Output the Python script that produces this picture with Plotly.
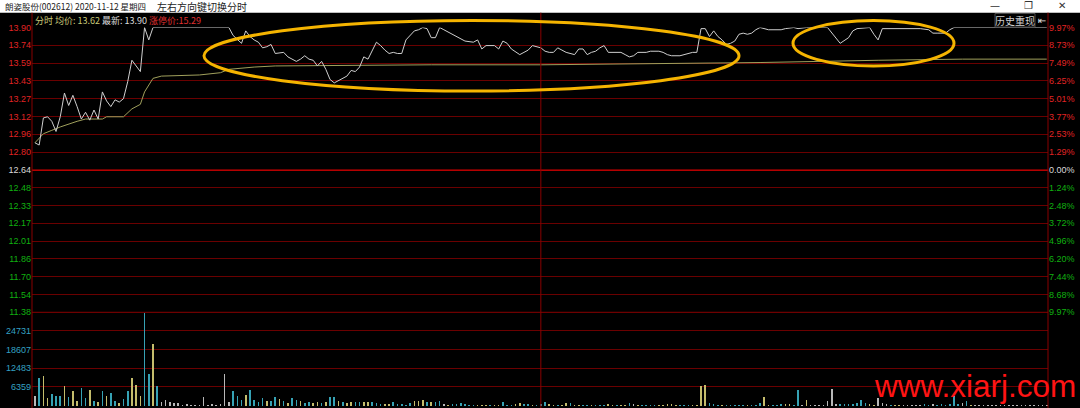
import numpy as np
import plotly.graph_objects as go

# ---------------- data ----------------
# intraday price (minute index since 09:30, 0..240; 120 = 11:30/13:00)
price_min = [0, 1, 2, 3, 4, 5, 6, 7, 8, 9, 10, 11, 12, 13, 14, 15, 16, 17, 18, 19, 20, 21, 22, 23, 25, 26, 27, 28,
             46, 47, 49, 50, 51, 52, 53, 54, 55, 56, 57, 59, 60, 61, 62, 63, 64, 65, 66, 67, 68, 69, 70, 71, 72, 73,
             74, 75, 76, 77, 78, 79, 80, 81, 82, 83, 84, 85, 86, 87, 88, 90, 91, 92, 93, 94, 95, 96, 97, 99, 101,
             102, 104, 105, 106, 107, 109, 110, 111, 112, 113, 115, 116, 117, 118, 119, 120, 121, 122, 123, 124,
             125, 126, 128, 129, 130, 131, 132, 133, 134, 135, 136, 137, 138, 139, 140, 141, 142, 143, 145, 146,
             148, 149, 150, 151, 153, 154, 156, 157, 158, 159, 160, 161, 162, 163, 164, 165, 166, 167, 168, 169,
             170, 171, 172, 174, 176, 177, 178, 180, 181, 183, 188, 189, 190, 191, 193, 194, 195, 197, 198, 199,
             200, 201, 203, 205, 207, 210, 212, 213, 214, 216, 217, 218, 240]
price_val = [12.88, 12.86, 13.10, 13.11, 13.07, 12.98, 13.11, 13.32, 13.21, 13.30, 13.20, 13.09, 13.15, 13.08,
             13.17, 13.09, 13.33, 13.25, 13.20, 13.26, 13.24, 13.27, 13.42, 13.61, 13.51, 13.90, 13.79, 13.90,
             13.90, 13.83, 13.76, 13.87, 13.82, 13.79, 13.77, 13.72, 13.73, 13.75, 13.67, 13.68, 13.64, 13.62,
             13.60, 13.62, 13.65, 13.62, 13.61, 13.56, 13.60, 13.53, 13.44, 13.41, 13.43, 13.45,
             13.47, 13.52, 13.51, 13.55, 13.64, 13.62, 13.69, 13.77, 13.74, 13.70, 13.67, 13.68, 13.67, 13.67,
             13.79, 13.87, 13.88, 13.90, 13.89, 13.81, 13.81, 13.90, 13.88, 13.84, 13.80,
             13.78, 13.77, 13.79, 13.71, 13.74, 13.74, 13.71, 13.78, 13.76, 13.71, 13.66, 13.68, 13.70, 13.74,
             13.73, 13.72, 13.69, 13.68, 13.68, 13.72,
             13.70, 13.68, 13.66, 13.71, 13.71, 13.66, 13.68, 13.69, 13.72, 13.74, 13.68, 13.68, 13.68, 13.68,
             13.66, 13.64, 13.65, 13.68, 13.68, 13.69,
             13.69, 13.68, 13.66, 13.65, 13.65, 13.66, 13.68, 13.68, 13.89, 13.89, 13.82, 13.87, 13.82, 13.79,
             13.75, 13.76, 13.78, 13.84, 13.85, 13.84,
             13.85, 13.88, 13.90, 13.88, 13.88, 13.88, 13.89, 13.90, 13.89, 13.90, 13.90, 13.85, 13.81, 13.76,
             13.81, 13.87, 13.89, 13.90, 13.90, 13.84,
             13.79, 13.89, 13.89, 13.89, 13.89, 13.89, 13.88, 13.85, 13.85, 13.85, 13.88, 13.90, 13.90]

avg_min = [0, 2, 4, 6, 10, 12, 16, 17, 21, 23, 25, 26, 28, 30, 39, 44, 46, 52, 57, 94, 120, 157, 172, 200, 220, 240]
avg_val = [12.88, 12.96, 12.99, 13.02, 13.07, 13.09, 13.09, 13.11, 13.11, 13.18, 13.22, 13.33, 13.45, 13.47,
           13.48, 13.50, 13.53, 13.55, 13.56, 13.57, 13.57, 13.58, 13.59, 13.61, 13.62, 13.62]

# per-minute volume and its direction (u = up, d = down, f = flat)
volume = [3200, 9200, 9870, 2530, 3950, 3400, 3400, 6690, 3070, 5040,
          1750, 5820, 2530, 5260, 1540, 1210, 5040, 3400, 4170, 1540,
          1100, 2190, 5040, 9100, 7020, 3400, 30490, 10530, 20400, 6690,
          1210, 1970, 1210, 880, 880, 440, 660, 330, 330, 440,
          2960, 440, 660, 440, 660, 10530, 1420, 5040, 3400, 2080,
          3730, 5260, 2080, 1420, 2530, 1530, 1750, 3070, 2190, 1530,
          990, 2530, 2080, 1530, 880, 1210, 880, 1210, 990, 1210,
          2860, 3070, 1530, 1210, 880, 1210, 1420, 1210, 1420, 1420,
          1210, 990, 550, 550, 550, 1420, 550, 550, 440, 1100,
          1530, 1530, 1870, 1210, 1320, 1210, 1750, 770, 440, 550,
          770, 990, 550, 440, 330, 440, 440, 440, 440, 330,
          330, 1210, 330, 330, 550, 990, 550, 550, 440, 440,
          550, 1320, 550, 440, 440, 440, 880, 990, 440, 440,
          440, 440, 440, 440, 440, 440, 660, 440, 440, 440,
          440, 990, 660, 330, 330, 330, 440, 330, 330, 440,
          550, 550, 330, 330, 440, 330, 330, 440, 6470, 6800,
          990, 660, 440, 440, 440, 440, 440, 440, 440, 440,
          440, 440, 990, 2860, 440, 440, 440, 550, 550, 550,
          440, 5160, 330, 2080, 330, 330, 330, 440, 1540, 5590,
          550, 550, 550, 660, 660, 880, 1870, 990, 660, 440,
          2630, 880, 660, 440, 440, 440, 440, 330, 440, 330,
          440, 550, 440, 550, 440, 550, 440, 660, 3400, 660,
          990, 1540, 440, 330, 330, 440, 330, 330, 440, 330,
          330, 440, 330, 330, 330, 330, 330, 440, 330, 330, 330]
vol_dir = ("fduuddduduuddudududdudduuuddud"
           "fffffffffffffffffdddudddduddududdudduududduduudduuddduuddddduuududdfudddddduuuduuddduud"
           "duddduuduuduudduddduuduudfudddduuuuuddduuuuddduddddduddduuddduuddfufffffffddddddduufffduufffffddfddddd"
           "dfdufffffffffffffffffffffff")
vol_ticks = [6359, 12483, 18607, 24731]

price_up_labels = ["13.90", "13.74", "13.59", "13.43", "13.27", "13.12", "12.96", "12.80"]
pre_close_label = "12.64"
price_dn_labels = ["12.48", "12.33", "12.17", "12.01", "11.86", "11.70", "11.54", "11.38"]
pct_up_labels = ["9.97%", "8.73%", "7.49%", "6.25%", "5.01%", "3.77%", "2.53%", "1.29%"]
pct_zero_label = "0.00%"
pct_dn_labels = ["1.24%", "2.48%", "3.72%", "4.96%", "6.20%", "7.44%", "8.68%", "9.97%"]

PRICE_MAX, PRICE_MIN = 13.90, 11.38
VOL_MAX = 30855

# ---------------- layout helpers ----------------
W, H = 1080, 408
def px(x):
    return x / W
def py(y):
    return 1 - y / H

RED = "#e02424"
GREEN = "#10b010"
GREY = "#d8d8d8"
TEAL = "#34a2c4"
GRID = "#6a0000"
FONT = "Liberation Sans, Arial, sans-serif"
CJK = "Noto Sans CJK SC, sans-serif"

def colored(labels, color):
    return ['<span style="color:%s">%s</span>' % (color, t) for t in labels]

dir_color = {"u": "#c4bc6c", "d": "#36a2b4", "f": "#b8b8b8"}
n = len(volume)
colors = [dir_color[c] for c in (vol_dir + "f" * n)[:n]]

grid_vals = list(np.linspace(PRICE_MAX, PRICE_MIN, 17))
left_text = colored(price_up_labels, RED) + colored([pre_close_label], GREY) + colored(price_dn_labels, GREEN)
right_text = colored(pct_up_labels, RED) + colored([pct_zero_label], GREY) + colored(pct_dn_labels, GREEN)

fig = go.Figure()
fig.add_trace(go.Bar(x=list(range(n)), y=volume, marker=dict(color=colors, line=dict(width=0)),
                     width=0.38, xaxis="x", yaxis="y3", showlegend=False, hoverinfo="skip"))
fig.add_trace(go.Scatter(x=avg_min, y=avg_val, mode="lines", line=dict(color="#a0a05c", width=1),
                         xaxis="x", yaxis="y", showlegend=False, hoverinfo="skip"))
fig.add_trace(go.Scatter(x=price_min, y=price_val, mode="lines", line=dict(color="#cfcfcf", width=1),
                         xaxis="x", yaxis="y2", showlegend=False, hoverinfo="skip"))

dom_price = [py(312.3), py(27.5)]
dom_vol = [py(406.0), py(312.3)]
tickfont = dict(family=FONT, size=9, color=RED)

common = dict(range=[PRICE_MIN, PRICE_MAX], showline=False, zeroline=False, ticks="",
              automargin=False, fixedrange=True, tickvals=grid_vals)
fig.update_layout(
    width=W, height=H, margin=dict(l=0, r=0, t=0, b=0),
    paper_bgcolor="black", plot_bgcolor="black", showlegend=False, bargap=0,
    xaxis=dict(domain=[px(32), px(1048)], range=[-0.7, 240.3], visible=False, fixedrange=True),
    yaxis=dict(domain=dom_price, ticktext=left_text, tickfont=tickfont, showgrid=True,
               gridcolor=GRID, gridwidth=1, side="left", anchor="x", **common),
    yaxis2=dict(overlaying="y", ticktext=right_text, tickfont=tickfont, showgrid=False,
                side="right", anchor="x", **common),
    yaxis3=dict(domain=dom_vol, range=[0, VOL_MAX], tickvals=vol_ticks, ticktext=[str(v) for v in vol_ticks],
                tickfont=dict(family=FONT, size=9, color=TEAL), showgrid=True, gridcolor=GRID, gridwidth=1,
                zeroline=False, showline=False, ticks="", automargin=False, fixedrange=True, anchor="x"),
)

shapes = [
    # window title bar
    dict(type="rect", xref="paper", yref="paper", x0=0, x1=1, y0=py(12.7), y1=1,
         fillcolor="white", line=dict(width=0), layer="above"),
    # frame lines
    dict(type="line", xref="paper", yref="paper", x0=px(32), x1=px(32), y0=0, y1=py(12.7),
         line=dict(color="#8a0000", width=1)),
    dict(type="line", xref="paper", yref="paper", x0=px(1048), x1=px(1048), y0=0, y1=py(12.7),
         line=dict(color="#8a0000", width=1)),
    dict(type="line", xref="x", yref="paper", x0=120, x1=120, y0=0, y1=py(12.7),
         line=dict(color="#8a0000", width=1)),
    # previous-close line
    dict(type="line", xref="paper", yref="y", x0=px(32), x1=px(1048), y0=grid_vals[8], y1=grid_vals[8],
         line=dict(color="#b40000", width=2), layer="below"),
    # price / volume separator
    dict(type="line", xref="paper", yref="paper", x0=px(32), x1=px(1048), y0=py(312.3), y1=py(312.3),
         line=dict(color="#8a0000", width=1), layer="below"),
    # "历史重现" button frame
    dict(type="rect", xref="paper", yref="paper", x0=px(995), x1=px(1035), y0=py(27), y1=py(13.5),
         fillcolor="black", line=dict(color="#4a4a4a", width=1)),
    # highlight ellipses
    dict(type="circle", xref="paper", yref="paper", x0=px(204), x1=px(739), y0=py(91), y1=py(20.5),
         line=dict(color="#f5b400", width=3), layer="above"),
    dict(type="circle", xref="paper", yref="paper", x0=px(793), x1=px(954), y0=py(66), y1=py(20.5),
         line=dict(color="#f5b400", width=3), layer="above"),
]
fig.update_layout(shapes=shapes)

ann = [
    dict(x=px(3), y=py(6.3), text="朗姿股份(002612) 2020-11-12 星期四", font=dict(family=CJK, size=8.5, color="#222222"),
         xanchor="left", yanchor="middle"),
    dict(x=px(155), y=py(6.3), text="左右方向键切换分时", font=dict(family=CJK, size=10, color="#222222"),
         xanchor="left", yanchor="middle"),
    dict(x=px(995), y=py(6), text="—", font=dict(family="DejaVu Sans", size=10, color="#333333"),
         xanchor="center", yanchor="middle"),
    dict(x=px(1028), y=py(6), text="❐", font=dict(family="DejaVu Sans", size=10, color="#333333"),
         xanchor="center", yanchor="middle"),
    dict(x=px(1062), y=py(6), text="✕", font=dict(family="DejaVu Sans", size=10, color="#333333"),
         xanchor="center", yanchor="middle"),
    dict(x=px(33), y=py(20.5),
         text='<span style="color:#c8c878">分时 均价: 13.62</span> <span style="color:#dcdcdc">最新: 13.90</span> '
              '<span style="color:#e03030">涨停价:15.29</span>',
         font=dict(family=CJK, size=9, color="#c8c878"), xanchor="left", yanchor="middle"),
    dict(x=px(1015), y=py(20.3), text="历史重现", font=dict(family=CJK, size=10, color="#cfcfcf"),
         xanchor="center", yanchor="middle"),
    dict(x=px(1042), y=py(20.3), text="⇤", font=dict(family="DejaVu Sans", size=10, color="#e0e0e0"),
         xanchor="center", yanchor="middle"),
    dict(x=px(872), y=py(386), text="www.xiarj.com", font=dict(family=FONT, size=31.5, color="#ff1414"),
         xanchor="left", yanchor="middle"),
]
for a in ann:
    a.update(xref="paper", yref="paper", showarrow=False)
fig.update_layout(annotations=ann)

fig.write_html("out.html",
               config={"displayModeBar": False, "staticPlot": True},
               post_script="document.body.style.margin='0';document.body.style.padding='0';"
                           "document.body.style.overflow='hidden';")
